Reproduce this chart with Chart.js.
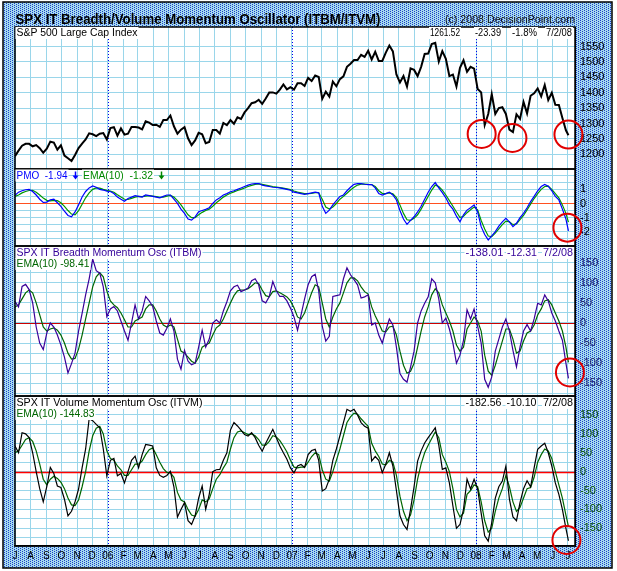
<!DOCTYPE html>
<html>
<head>
<meta charset="utf-8">
<script src="https://cdn.jsdelivr.net/npm/chart.js@4.4.1/dist/chart.umd.min.js"></script>
<style>
  html, body { margin: 0; padding: 0; background: #fff; }
  canvas { display: block; }
</style>
</head>
<body>
<canvas id="myChart" width="617" height="571"></canvas>
<script>
// weekly closes (Fridays) from 7/1/05 to 6/27/08, plus the last day 7/2/08
const dates = [];
for (let d = Date.UTC(2005, 6, 1); d <= Date.UTC(2008, 5, 27); d += 7 * 86400000) {
    dates.push(new Date(d).toISOString().slice(0, 10));
}
dates.push('2008-07-02');

const spx = [
    1194, 1212, 1228, 1234, 1234, 1226, 1230, 1220, 1205, 1218,
    1241, 1238, 1215, 1229, 1196, 1187, 1178, 1198, 1220, 1235,
    1248, 1268, 1265, 1259, 1267, 1269, 1248, 1285, 1288, 1261,
    1284, 1264, 1267, 1289, 1289, 1287, 1281, 1307, 1303, 1295,
    1296, 1289, 1311, 1311, 1326, 1291, 1267, 1280, 1288, 1252,
    1230, 1245, 1270, 1265, 1236, 1240, 1279, 1279, 1267, 1302,
    1295, 1311, 1299, 1320, 1315, 1336, 1350, 1366, 1369, 1377,
    1364, 1381, 1401, 1401, 1397, 1410, 1427, 1411, 1418, 1410,
    1431, 1431, 1422, 1448, 1438, 1456, 1451, 1380, 1403, 1387,
    1436, 1421, 1444, 1453, 1484, 1494, 1506, 1506, 1523, 1516,
    1536, 1508, 1533, 1503, 1503, 1530, 1553, 1534, 1459, 1433,
    1454, 1420, 1479, 1474, 1454, 1484, 1526, 1527, 1558, 1562,
    1501, 1535, 1510, 1454, 1459, 1420, 1481, 1505, 1468, 1484,
    1478, 1412, 1401, 1295, 1331, 1395, 1331, 1350, 1353, 1331,
    1280, 1272, 1330, 1315, 1370, 1333, 1390, 1398, 1414, 1388,
    1425, 1376, 1400, 1361, 1360, 1318, 1278,
    1262
];

const pmo = [
    0.58, 0.8, 0.9, 0.97, 0.99, 0.85, 0.6, 0.3, 0.07, 0.1,
    0.25, 0.3, 0.05, -0.2, -0.55, -0.85, -0.94, -0.6, -0.1, 0.46,
    0.85, 1.1, 1.24, 1.15, 1.0, 0.95, 0.87, 0.85, 0.7, 0.45,
    0.3, 0.16, 0.35, 0.45, 0.55, 0.5, 0.45, 0.6, 0.55, 0.5,
    0.45, 0.4, 0.5, 0.6, 0.6, 0.3, 0.0, -0.4, -0.7, -1.1,
    -1.18, -0.95, -0.59, -0.5, -0.42, -0.3, 0.0, 0.25, 0.4, 0.6,
    0.7, 0.83, 0.9, 1.0, 1.1, 1.2, 1.3, 1.38, 1.4, 1.41,
    1.3, 1.25, 1.2, 1.15, 1.13, 1.1, 1.05, 1.0, 0.94, 0.8,
    0.75, 0.7, 0.65, 0.7, 0.75, 0.8, 0.75, -0.2, -0.7, -0.47,
    -0.1, 0.2, 0.5, 0.6, 0.9, 1.15, 1.35, 1.41, 1.4, 1.36,
    1.34, 1.34, 1.1, 0.7, 0.6, 0.7, 0.8, 0.6, 0.25, -0.5,
    -1.1, -1.48, -1.2, -0.94, -0.6, -0.2, 0.3, 0.8, 1.2, 1.48,
    1.1, 0.77, 0.4, -0.1, -0.4, -0.9, -1.29, -0.8, -0.47, -0.3,
    -0.1, -0.6, -1.64, -2.2, -2.58, -2.3, -1.99, -1.6, -1.3, -1.05,
    -1.3, -1.64, -1.4, -1.0, -0.7, -0.3, 0.13, 0.5, 0.9, 1.2,
    1.34, 1.22, 0.9, 0.5, 0.25, -0.4, -1.1,
    -1.94
];

const pmoEma = [
    0.5, 0.6, 0.75, 0.85, 0.92, 0.93, 0.8, 0.6, 0.38, 0.22,
    0.18, 0.22, 0.2, 0.05, -0.2, -0.5, -0.75, -0.8, -0.5, -0.05,
    0.4, 0.75, 1.0, 1.1, 1.08, 1.0, 0.93, 0.88, 0.8, 0.62,
    0.45, 0.3, 0.28, 0.36, 0.45, 0.5, 0.48, 0.52, 0.55, 0.52,
    0.48, 0.44, 0.45, 0.52, 0.57, 0.45, 0.2, -0.1, -0.45, -0.8,
    -1.0, -1.0, -0.8, -0.63, -0.5, -0.4, -0.2, 0.05, 0.25, 0.45,
    0.6, 0.72, 0.82, 0.92, 1.0, 1.1, 1.2, 1.28, 1.35, 1.38,
    1.35, 1.3, 1.25, 1.2, 1.16, 1.12, 1.08, 1.03, 0.98, 0.88,
    0.8, 0.75, 0.7, 0.7, 0.72, 0.76, 0.76, 0.3, -0.25, -0.4,
    -0.25, 0.0, 0.3, 0.5, 0.72, 0.95, 1.15, 1.3, 1.37, 1.37,
    1.35, 1.34, 1.2, 0.9, 0.72, 0.7, 0.75, 0.68, 0.42, -0.1,
    -0.7, -1.15, -1.2, -1.05, -0.8, -0.4, 0.05, 0.5, 0.95, 1.3,
    1.2, 0.95, 0.6, 0.2, -0.2, -0.6, -1.0, -0.9, -0.65, -0.45,
    -0.25, -0.45, -1.2, -1.8, -2.3, -2.35, -2.1, -1.8, -1.5, -1.25,
    -1.3, -1.5, -1.45, -1.15, -0.85, -0.45, -0.05, 0.35, 0.7, 1.0,
    1.2, 1.22, 1.0, 0.7, 0.4, -0.1, -0.7,
    -1.32
];

const itbm = [
    53, 40, 91, 96, 83, 50, -10, -50, -66, -25,
    0, -10, -30, -55, -85, -124, -101, -75, -20, 24,
    70, 110, 159, 130, 124, 90, 16, 35, 41, 30,
    5, -20, -43, 0, 45, 10, 30, 66, 55, 41,
    5, -25, -30, -13, 10, -20, -90, -115, -68, -95,
    -104, -100, -60, -18, -60, -40, 0, 8, 0, 30,
    53, 80, 90, 94, 78, 82, 87, 105, 110, 95,
    55, 50, 66, 103, 80, 66, 66, 55, 37, 15,
    -18, 20, 60, 95, 115, 121, 80, -8, -45, -33,
    66, 68, 70, 110, 137, 120, 108, 95, 62, 65,
    70, -5, 0, -30, -50, -18, 10, -5, -60, -126,
    -140, -147, -110, -70, 0, 30, 49, 65, 110, 100,
    60, 0, 12, -15, -50, -100, -80, -43, 33, 10,
    35, -8, -50, -140, -160, -134, -70, -40, -10, 10,
    -20, -68, -109, -60, -20, -4, -20, 10, 49, 45,
    70, 55, 25, 5, -20, -43, -100,
    -138
];

const itbmEma = [
    40, 45, 60, 75, 82, 75, 50, 20, -10, -20,
    -15, -12, -18, -30, -50, -75, -90, -88, -65, -30,
    10, 50, 90, 115, 125, 115, 80, 55, 45, 38,
    25, 8, -10, -10, 5, 10, 15, 35, 45, 45,
    30, 10, -5, -10, -5, -10, -40, -70, -75, -85,
    -95, -100, -85, -60, -55, -50, -30, -12, -5, 10,
    30, 50, 68, 80, 82, 82, 85, 92, 100, 98,
    82, 68, 65, 78, 80, 75, 70, 65, 55, 38,
    15, 10, 25, 50, 75, 95, 90, 50, 10, -10,
    15, 35, 50, 75, 100, 112, 112, 105, 90, 78,
    72, 40, 18, 0, -20, -22, -10, -8, -30, -70,
    -105, -125, -120, -100, -60, -20, 15, 40, 70, 85,
    75, 45, 25, 5, -20, -55, -70, -60, -15, 0,
    15, 5, -20, -80, -120, -130, -105, -75, -45, -15,
    -15, -40, -75, -70, -45, -25, -20, -5, 20, 35,
    55, 58, 45, 25, 5, -20, -60,
    -98
];

const itvm = [
    68, 50, 103, 100, 90, 50, 0, -45, -80, -40,
    11, -5, -38, -42, -73, -117, -105, -80, -46, 10,
    60, 140, 135, 125, 116, 60, -11, 30, 35, -11,
    -5, -30, 0, 30, 41, 10, 45, 72, 70, 68,
    10, -10, -15, -10, 1, -40, -120, -100, -82, -130,
    -140, -117, -70, -38, -100, -60, 0, 5, 6, 30,
    50, 110, 130, 121, 110, 98, 94, 103, 90, 70,
    54, 75, 94, 112, 90, 68, 50, 33, 10, -3,
    15, 19, 11, 45, 56, 59, 30, -51, -45, -20,
    30, 60, 95, 130, 165, 160, 165, 150, 130, 120,
    115, 28, 40, 30, -3, 20, 50, 15, -50, -117,
    -140, -153, -100, -40, 28, 55, 76, 90, 103, 116,
    70, 6, 10, -30, -91, -150, -140, -100, -20, -46,
    -20, -46, -110, -170, -184, -135, -70, -40, -25, 15,
    -73, -120, -130, -82, -45, -24, -40, 10, 59, 68,
    75, 50, 15, -30, -60, -100, -150,
    -183
];

const itvmEma = [
    50, 55, 70, 85, 90, 80, 55, 20, -20, -35,
    -20, -12, -18, -28, -45, -70, -88, -90, -75, -40,
    0, 55, 95, 115, 120, 100, 55, 35, 30, 15,
    5, -10, -10, 5, 20, 20, 28, 45, 58, 63,
    45, 25, 8, -2, -3, -15, -55, -75, -80, -100,
    -115, -118, -100, -75, -80, -72, -45, -20, -8, 10,
    25, 60, 90, 105, 108, 103, 98, 100, 95, 85,
    70, 70, 80, 95, 92, 82, 68, 52, 30, 12,
    10, 12, 12, 25, 40, 50, 45, 5, -20, -25,
    0, 30, 60, 95, 130, 145, 155, 152, 140, 130,
    120, 75, 55, 40, 20, 18, 30, 25, -10, -65,
    -105, -130, -115, -75, -20, 20, 50, 70, 88, 105,
    90, 45, 25, 0, -45, -100, -120, -110, -60, -50,
    -35, -40, -80, -130, -160, -150, -105, -70, -45, -10,
    -40, -80, -105, -95, -70, -45, -42, -15, 25, 45,
    60, 55, 35, 0, -35, -70, -115,
    -145
];

// axis ticks
const spxTicks = [1200, 1250, 1300, 1350, 1400, 1450, 1500, 1550];
const pmoTicks = [-3, -2.5, -2, -1.5, -1, -0.5, 0, 0.5, 1, 1.5, 2];
const itbmTicks = [-175, -150, -125, -100, -75, -50, -25, 0, 25, 50, 75, 100, 125, 150, 175];
const itvmTicks = [-175, -150, -125, -100, -75, -50, -25, 0, 25, 50, 75, 100, 125, 150, 175, 200];
const monthLetters = ['J', 'F', 'M', 'A', 'M', 'J', 'J', 'A', 'S', 'O', 'N', 'D'];

// the red circles drawn on the chart
const circleDates = ['2008-01-12', '2008-03-13', '2008-07-02', '2008-06-30', '2008-07-05', '2008-06-28'];
const circleValues = [1266, 1253, 1264, -1.71, -123, -181];
const circleAxes = ['ySpx', 'ySpx', 'ySpx', 'yPmo', 'yItbm', 'yItvm'];

// header texts
const spxInfo = ['1261.52', '-23.39', '-1.8%', '7/2/08'];
const itbmInfo = ['-138.01', '-12.31', '7/2/08'];
const itvmInfo = ['-182.56', '-10.10', '7/2/08'];

const t0 = Date.UTC(2005, 6, 1);
function dayOf(s) {
    const p = s.split('-');
    return (Date.UTC(+p[0], +p[1] - 1, +p[2]) - t0) / 86400000;
}
const xDays = dates.map(dayOf);
const pts = vals => vals.map((v, i) => ({ x: xDays[i], y: v }));

const monthTicks = [];
for (let k = 0; k <= 36; k++) monthTicks.push((Date.UTC(2005, 6 + k, 1) - t0) / 86400000);
const yearTicks = [dayOf('2006-01-01'), dayOf('2007-01-01'), dayOf('2008-01-01')];
function monthLabel(k) {
    const m = (6 + k) % 12;
    const y = 2005 + Math.floor((6 + k) / 12);
    return m === 0 ? String(y).slice(2) : monthLetters[m];
}

const gridBlue = '#9ad6ea';
const axisFont = { family: 'Arial, "Liberation Sans", sans-serif', size: 11 };

function yScale(min, max, weight, ticks, labelFn, color) {
    return {
        type: 'linear', position: 'right', stack: 'panels', stackWeight: weight,
        min: min, max: max,
        afterBuildTicks: s => { s.ticks = ticks.map(v => ({ value: v })); },
        afterFit: s => { s.width = 42; },
        grid: { color: gridBlue, lineWidth: 1, drawTicks: false },
        border: { display: true, color: '#000', width: 1 },
        ticks: { autoSkip: false, padding: 5, color: color, font: axisFont, callback: labelFn }
    };
}

function makePattern(ctx) {
    const c = document.createElement('canvas');
    c.width = 4; c.height = 4;
    const g = c.getContext('2d');
    g.fillStyle = '#a6dbec';
    g.fillRect(0, 0, 4, 4);
    g.fillStyle = '#1c3ccc';
    [[0, 0], [2, 1], [0, 2], [2, 3]].forEach(p => g.fillRect(p[0], p[1], 1, 1));
    return ctx.createPattern(c, 'repeat');
}

function fitText(ctx, str, x, y, w, font, color, box) {
    ctx.save();
    ctx.font = font;
    const m = ctx.measureText(str).width;
    if (box) {
        ctx.fillStyle = '#fff';
        ctx.fillRect(x - 1, y - 9, w + 2, 12);
    }
    ctx.fillStyle = color;
    ctx.textBaseline = 'alphabetic';
    ctx.translate(x, y);
    ctx.scale(w / m, 1);
    ctx.fillText(str, 0, 0);
    ctx.restore();
}

function downArrow(ctx, x, y, color) {
    ctx.save();
    ctx.strokeStyle = color;
    ctx.fillStyle = color;
    ctx.lineWidth = 1.5;
    ctx.beginPath();
    ctx.moveTo(x, y - 7);
    ctx.lineTo(x, y - 2);
    ctx.stroke();
    ctx.beginPath();
    ctx.moveTo(x - 3, y - 3);
    ctx.lineTo(x + 3, y - 3);
    ctx.lineTo(x, y + 1);
    ctx.closePath();
    ctx.fill();
    ctx.restore();
}

const decor = {
    id: 'decor',
    beforeDraw(chart) {
        const ctx = chart.ctx, a = chart.chartArea;
        ctx.save();
        ctx.fillStyle = '#fff';
        ctx.fillRect(0, 0, chart.width, chart.height);
        ctx.fillStyle = makePattern(ctx);
        ctx.fillRect(3, 2, 609, 566);
        ctx.strokeStyle = '#000';
        ctx.lineWidth = 1.5;
        ctx.strokeRect(3, 2, 609, 566);
        ctx.fillStyle = '#fff';
        ctx.fillRect(a.left, a.top, a.right - a.left, a.bottom - a.top);
        ctx.restore();
    },
    beforeDatasetsDraw(chart) {
        const ctx = chart.ctx, a = chart.chartArea, sx = chart.scales.x;
        ctx.save();
        // year separators
        ctx.strokeStyle = '#0000ee';
        ctx.lineWidth = 1;
        ctx.setLineDash([1, 2]);
        yearTicks.forEach(d => {
            const px = Math.round(sx.getPixelForValue(d)) + 0.5;
            ctx.beginPath();
            ctx.moveTo(px, a.top);
            ctx.lineTo(px, a.bottom);
            ctx.stroke();
        });
        ctx.setLineDash([]);
        // zero lines
        [['yPmo', '#ff5020', 1], ['yItbm', '#cc0000', 1.2], ['yItvm', '#ff0000', 1.5]].forEach(z => {
            const py = Math.round(chart.scales[z[0]].getPixelForValue(0)) + 0.5;
            ctx.strokeStyle = z[1];
            ctx.lineWidth = z[2];
            ctx.beginPath();
            ctx.moveTo(a.left, py);
            ctx.lineTo(a.right, py);
            ctx.stroke();
        });
        ctx.restore();
    },
    afterDraw(chart) {
        const ctx = chart.ctx, a = chart.chartArea, sx = chart.scales.x;
        ctx.save();
        // panel frames
        ctx.strokeStyle = '#000';
        ctx.lineWidth = 1.5;
        ['ySpx', 'yPmo', 'yItbm', 'yItvm'].forEach(id => {
            const s = chart.scales[id];
            ctx.strokeRect(a.left, s.top, a.right - a.left, s.bottom - s.top);
        });
        // circles
        ctx.strokeStyle = '#e00000';
        ctx.lineWidth = 2;
        circleDates.forEach((d, i) => {
            const px = sx.getPixelForValue(dayOf(d));
            const py = chart.scales[circleAxes[i]].getPixelForValue(circleValues[i]);
            ctx.beginPath();
            ctx.arc(px, py, 14, 0, Math.PI * 2);
            ctx.stroke();
        });
        ctx.restore();

        const ff = 'Arial, "Liberation Sans", sans-serif';
        const f = '11px ' + ff;
        const fs = '10px ' + ff;
        fitText(ctx, 'SPX IT Breadth/Volume Momentum Oscillator (ITBM/ITVM)', 15.5, 24, 365,
            'bold 15px ' + ff, '#000', false);
        fitText(ctx, '(c) 2008 DecisionPoint.com', 445, 23, 130, f, '#111', false);

        fitText(ctx, 'S&P 500 Large Cap Index', 16.5, 36, 121, f, '#000', true);
        fitText(ctx, spxInfo[0], 430, 36, 30, fs, '#000', true);
        fitText(ctx, spxInfo[1], 475, 36, 26, fs, '#000', true);
        fitText(ctx, spxInfo[2], 512, 36, 25, fs, '#000', true);
        fitText(ctx, spxInfo[3], 546, 36, 26, fs, '#000', true);

        fitText(ctx, 'PMO  ' + pmo[pmo.length - 1].toFixed(2), 16.5, 178.5, 51, f, '#0000ff', true);
        downArrow(ctx, 75.5, 178.5, '#0000ff');
        fitText(ctx, 'EMA(10)  ' + pmoEma[pmoEma.length - 1].toFixed(2), 83, 178.5, 70, f, '#008800', true);
        downArrow(ctx, 161.5, 178.5, '#008800');

        fitText(ctx, 'SPX IT Breadth Momentum Osc (ITBM)', 16.5, 256, 185, f, '#330099', true);
        fitText(ctx, 'EMA(10) -98.41', 16.5, 267, 73, f, '#006600', true);
        fitText(ctx, itbmInfo[0], 465.5, 256, 38, f, '#330099', true);
        fitText(ctx, itbmInfo[1], 507, 256, 30, f, '#330099', true);
        fitText(ctx, itbmInfo[2], 543, 256, 30, f, '#330099', true);

        fitText(ctx, 'SPX IT Volume Momentum Osc (ITVM)', 16.5, 406, 186, f, '#000', true);
        fitText(ctx, 'EMA(10) -144.83', 16.5, 417, 78, f, '#006600', true);
        fitText(ctx, itvmInfo[0], 465.5, 406, 36, f, '#000', true);
        fitText(ctx, itvmInfo[1], 506.5, 406, 30, f, '#000', true);
        fitText(ctx, itvmInfo[2], 543, 406, 30, f, '#000', true);
    }
};

const ctx = document.getElementById('myChart').getContext('2d');
const chart = new Chart(ctx, {
    type: 'line',
    data: {
        datasets: [
            { data: pts(spx), yAxisID: 'ySpx', borderColor: '#000', borderWidth: 2 },
            { data: pts(pmo), yAxisID: 'yPmo', borderColor: '#0000ff', borderWidth: 1.2 },
            { data: pts(pmoEma), yAxisID: 'yPmo', borderColor: '#009900', borderWidth: 1.2 },
            { data: pts(itbm), yAxisID: 'yItbm', borderColor: '#3a0099', borderWidth: 1.2 },
            { data: pts(itbmEma), yAxisID: 'yItbm', borderColor: '#006600', borderWidth: 1.2 },
            { data: pts(itvm), yAxisID: 'yItvm', borderColor: '#000', borderWidth: 1.2 },
            { data: pts(itvmEma), yAxisID: 'yItvm', borderColor: '#006600', borderWidth: 1.2 }
        ]
    },
    options: {
        responsive: false,
        animation: false,
        parsing: false,
        layout: { padding: { left: 15, top: 27, right: 0, bottom: 0 } },
        elements: { point: { radius: 0 }, line: { tension: 0, fill: false } },
        plugins: { legend: { display: false }, tooltip: { enabled: false } },
        scales: {
            x: {
                type: 'linear', position: 'bottom', min: 0, max: 1110,
                afterBuildTicks: s => { s.ticks = monthTicks.map(v => ({ value: v })); },
                afterFit: s => { s.height = 25; },
                grid: { color: gridBlue, lineWidth: 1, drawTicks: false },
                border: { display: true, color: '#000', width: 1.5 },
                ticks: {
                    autoSkip: false, maxRotation: 0, padding: 4, color: '#000',
                    font: { family: axisFont.family, size: 10 },
                    callback: (v, i) => monthLabel(i)
                }
            },
            ySpx: yScale(1152.3, 1613.3, 142, spxTicks, v => String(v), '#000'),
            yPmo: yScale(-3.01, 2.44, 77, pmoTicks,
                v => (Number.isInteger(v) && v >= -2 && v <= 1) ? String(v) : '', '#000'),
            yItbm: yScale(-181.6, 191.5, 150, itbmTicks,
                v => (v % 50 === 0 && Math.abs(v) <= 150) ? String(v) : '', '#1a1a66'),
            yItvm: yScale(-196.9, 200.3, 150, itvmTicks,
                v => (v % 50 === 0 && Math.abs(v) <= 150) ? String(v) : '', '#0b4d0b')
        }
    },
    plugins: [decor]
});
</script>
</body>
</html>
